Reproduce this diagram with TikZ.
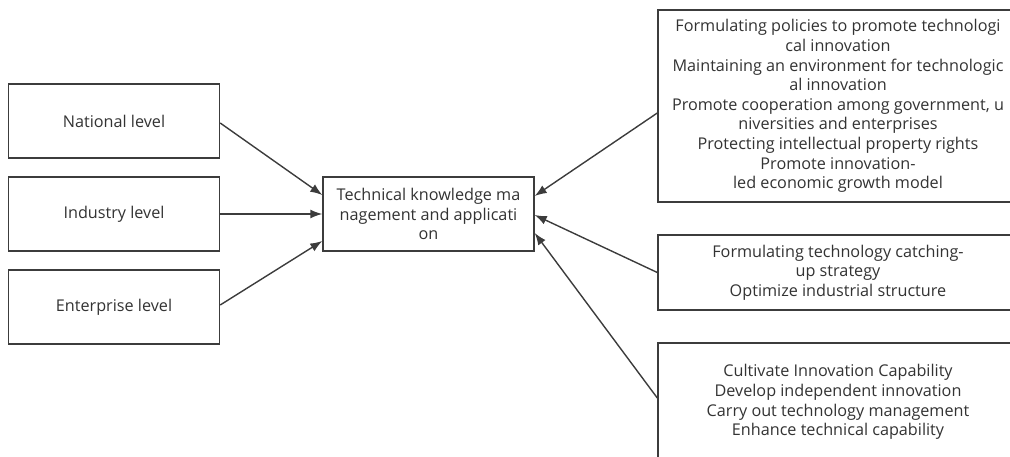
\documentclass[tikz,border=0pt]{standalone}
\usepackage{fontspec}
\setmainfont{Open Sans}
\usetikzlibrary{arrows.meta}
\definecolor{ln}{HTML}{3C3C3C}
\definecolor{tx}{HTML}{333333}
\tikzset{
  box/.style={draw=ln, line width=1.4pt, fill=white, text=tx, align=center,
    inner sep=0pt, font=\fontsize{16.2}{19.6}\selectfont},
  arr/.style={draw=ln, line width=1.4pt, -{Latex[length=12pt,width=9pt]}}
}
\begin{document}
\begin{tikzpicture}[x=1pt,y=-1pt]
\useasboundingbox (0,0) rectangle (1010,457);
\clip (0,0) rectangle (1010,457);
% left boxes
\node[box, minimum width=211pt, minimum height=74pt] (nat) at (114,121) {National level};
\node[box, minimum width=211pt, minimum height=74pt] (ind) at (114,214) {Industry level};
\node[box, minimum width=211pt, minimum height=74pt] (ent) at (114,307) {Enterprise level};
% centre box
\node[box, minimum width=211pt, minimum height=74pt] (tk) at (428.5,214) {Technical knowledge ma\\nagement and applicati\\on};
% right boxes
\node[box, minimum width=360pt, minimum height=192pt] (r1) at (838,106) {Formulating policies to promote technologi\\cal innovation\\Maintaining an environment for technologic\\al innovation\\Promote cooperation among government, u\\niversities and enterprises\\Protecting intellectual property rights\\Promote innovation-\\led economic growth model};
\node[box, minimum width=360pt, minimum height=75pt] (r2) at (838,272.5) {Formulating technology catching-\\up strategy\\Optimize industrial structure};
\node[box, minimum width=360pt, minimum height=118pt] (r3) at (838,402) {Cultivate Innovation Capability\\Develop independent innovation\\Carry out technology management\\Enhance technical capability};
% connectors
\draw[arr] ([yshift=-2pt]nat.east) -- ([yshift=19pt]tk.west);
\draw[arr] (ind.east) -- (tk.west);
\draw[arr] ([yshift=2pt]ent.east) -- ([yshift=-27pt]tk.west);
\draw[arr] ([yshift=-7pt]r1.west) -- ([yshift=18pt]tk.east);
\draw[arr] (r2.west) -- ([yshift=-1pt]tk.east);
\draw[arr] ([yshift=4pt]r3.west) -- ([yshift=-19pt]tk.east);
\end{tikzpicture}
\end{document}
